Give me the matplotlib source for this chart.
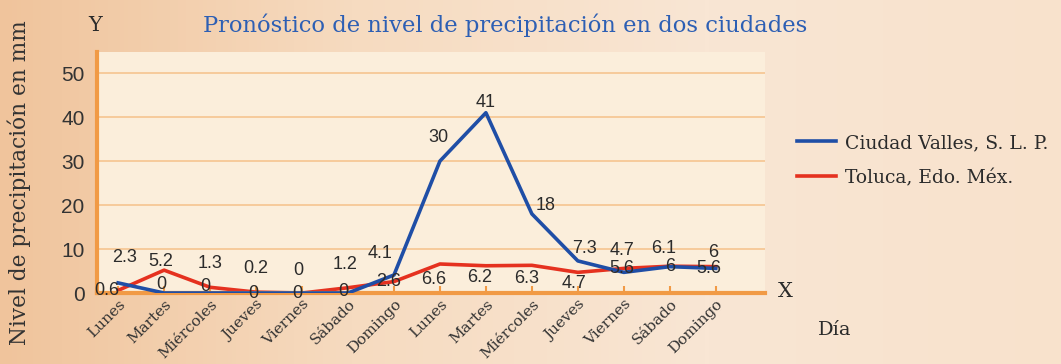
import numpy as np
import matplotlib.pyplot as plt

# precipitación pronosticada (mm), dos semanas
dias = ['Lunes', 'Martes', 'Miércoles', 'Jueves', 'Viernes', 'Sábado', 'Domingo'] * 2
ciudad_valles = [2.3, 0, 0, 0, 0, 0, 4.1, 30, 41, 18, 7.3, 4.7, 6, 5.6]
toluca = [0.6, 5.2, 1.3, 0.2, 0, 1.2, 2.6, 6.6, 6.2, 6.3, 4.7, 5.6, 6.1, 6]
y_ticks = [0, 10, 20, 30, 40, 50]

# desplazamiento de cada etiqueta en pixeles (dx, dy)
off_valles = [(6, 25), (-3, 9), (-5, 7), (-3, 0), (-5, 0), (-5, 2), (-14, 21),
              (-2, 24), (0, 10), (14, 8), (7, 12), (-2, 22), (0, 0), (-7, 0)]
off_toluca = [(-11, 0), (-3, 9), (0, 24), (0, 24), (-4, 23), (-3, 23), (-5, 0),
              (-6, -16), (-6, -12), (-5, -13), (-4, -11), (-2, 0), (-6, 18), (-3, 14)]

azul = '#1f4ea6'
rojo = '#e5311f'
naranja = '#f19a45'
serif = ['DejaVu Serif']
nums = ['Liberation Sans', 'DejaVu Sans']

fig = plt.figure(figsize=(10.61, 3.64), dpi=100)
fig.patch.set_facecolor('#f6dcc2')

# fondo tipo papel con degradado
bg = fig.add_axes([0, 0, 1, 1], zorder=-10)
grad = np.linspace(0, 1, 256)[None, :]
bg.imshow(grad, aspect='auto', extent=[0, 1, 0, 1],
          cmap=plt.matplotlib.colors.LinearSegmentedColormap.from_list(
              'papel', ['#f0c49c', '#f6dbc0', '#f9e6d4', '#f8e2cc']))
bg.set_axis_off()

ax = fig.add_axes([0.0914, 0.195, 0.63, 0.662])
ax.set_facecolor('#fbeedb')
x = np.arange(len(dias))

ax.plot(x, ciudad_valles, color=azul, lw=2.6, zorder=3, label='Ciudad Valles, S. L. P.')
ax.plot(x, toluca, color=rojo, lw=2.6, zorder=2, label='Toluca, Edo. Méx.')

for i, v in enumerate(ciudad_valles):
    ax.annotate(f'{v:g}', (x[i], v), xytext=off_valles[i], textcoords='offset pixels',
                ha='center', va='center', fontsize=13, family=nums, color='#2b2b2b', zorder=5)
for i, v in enumerate(toluca):
    ax.annotate(f'{v:g}', (x[i], v), xytext=off_toluca[i], textcoords='offset pixels',
                ha='center', va='center', fontsize=13, family=nums, color='#2b2b2b', zorder=5)

ax.set_xlim(-0.46, 14.08)
ax.set_ylim(0, 54.8)
ax.set_yticks(y_ticks)
ax.set_yticklabels([str(t) for t in y_ticks], family=nums, fontsize=15, color='#333333')
ax.yaxis.grid(True, color='#f6c896', lw=1.3)
ax.set_axisbelow(True)

ax.set_xticks(x)
ax.set_xticklabels(dias, rotation=45, ha='right', va='top', rotation_mode='anchor',
                   family=serif, fontsize=11, color='#333333')
ax.tick_params(axis='x', length=5, width=1.5, color=naranja, direction='in', pad=3)
ax.tick_params(axis='y', length=0, pad=9)

for s in ['top', 'right']:
    ax.spines[s].set_visible(False)
for s in ['left', 'bottom']:
    ax.spines[s].set_color(naranja)
    ax.spines[s].set_linewidth(3)

fig.text(0.476, 0.93, 'Pronóstico de nivel de precipitación en dos ciudades',
         ha='center', va='center', family=serif, fontsize=16.3, color='#2d5fb4')
fig.text(0.09, 0.93, 'Y', ha='center', va='center', family=serif, fontsize=15, color='#2b2b2b')
fig.text(0.74, 0.2, 'X', ha='center', va='center', family=serif, fontsize=15, color='#2b2b2b')
fig.text(0.771, 0.093, 'Día', ha='left', va='center', family=serif, fontsize=14, color='#2b2b2b')
fig.text(0.018, 0.497, 'Nivel de precipitación en mm', rotation=90, ha='center', va='center',
         family=serif, fontsize=15.6, color='#333333')

leg = ax.legend(loc='upper left', bbox_to_anchor=(1.022, 0.73), frameon=False,
                prop={'family': serif, 'size': 13.5}, handlelength=2.1,
                handletextpad=0.45, labelspacing=0.9, labelcolor='#2b2b2b')

fig.savefig('out.png', dpi=100, facecolor=fig.get_facecolor())
